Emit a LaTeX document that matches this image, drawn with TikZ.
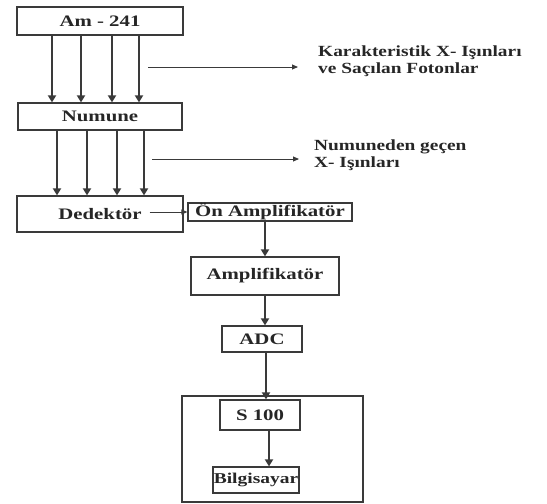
\documentclass[tikz,border=0pt]{standalone}
\usepackage{fontspec}
\newfontfamily\diagfont{Liberation Serif}[FakeStretch=1.3]
\newfontfamily\notefont{Liberation Serif}[FakeStretch=1.25]
\usetikzlibrary{arrows.meta}
\definecolor{ink}{HTML}{3A3A3A}
\tikzset{
  box/.style={draw=ink, line width=1.2pt, inner sep=0pt},
  note/.style={anchor=west, align=left, inner sep=0pt, font={\notefont\bfseries\fontsize{15.5}{17}\selectfont}},
  arr/.style={-{Triangle[length=7pt,width=8pt]}, draw=ink, line width=2pt},
  thinarr/.style={-{Triangle[length=6pt,width=5pt]}, draw=ink, line width=0.9pt},
}
\begin{document}
\begin{tikzpicture}[x=1pt, y=-1pt, font={\diagfont\bfseries\fontsize{16}{17}\selectfont}, text=black!85]
    \useasboundingbox (0,0) rectangle (547,504);
    \node[box, minimum width=166pt, minimum height=28pt] (am) at (100,21) {Am - 241};
    \node[box, minimum width=164pt, minimum height=27pt] (numune) at (100,116.5) {Numune};
    \node[box, minimum width=166pt, minimum height=36pt] (dedektor) at (100,214) {Dedektör};
    \node[box, minimum width=164pt, minimum height=18pt] (on) at (270,212) {Ön Amplifikatör};
    \node[box, minimum width=148pt, minimum height=38pt] (amp) at (265,276) {Amplifikatör};
    \node[box, minimum width=80pt, minimum height=26pt] (adc) at (262,339) {ADC};
    \node[box, minimum width=181pt, minimum height=106pt] (pc) at (272.5,449) {};
    \node[box, minimum width=80pt, minimum height=30pt] (s100) at (260,415) {S 100};
    \node[box, minimum width=86pt, minimum height=26pt, font={\diagfont\bfseries\fontsize{15}{16}\selectfont}] (bilgi) at (256,480) {Bilgisayar};
    \node[note] (karak) at (318,61.5) {Karakteristik X- Işınları\\ve Saçılan Fotonlar};
    \node[note] (gecen) at (314,155.5) {Numuneden geçen\\X- Işınları};
    \coordinate (ray1) at (148,67);
    \coordinate (ray2) at (152,159);
    \foreach \d in {-48,-19,12,39}
        \draw[arr] ([xshift=\d pt]am.south) -- ([xshift=\d pt]am.south |- numune.north);
    \foreach \d in {-43,-13,17,44}
        \draw[arr] ([xshift=\d pt]numune.south) -- ([xshift=\d pt]numune.south |- dedektor.north);
    \draw[thinarr, shorten >=20pt] (ray1) -- (ray1 -| karak.west);
    \draw[thinarr, shorten >=15pt] (ray2) -- (ray2 -| gecen.west);
    \draw[thinarr] ([xshift=-34pt]dedektor.east |- on.west) -- (on.west);
    \draw[arr] ([xshift=-5pt]on.south) -- ([xshift=-5pt]on.south |- amp.north);
    \draw[arr] (amp.south) -- (amp.south |- adc.north);
    \draw[arr] ([xshift=4pt]adc.south) -- ([xshift=4pt]adc.south |- s100.north);
    \draw[arr] ([xshift=9pt]s100.south) -- ([xshift=9pt]s100.south |- bilgi.north);
\end{tikzpicture}
\end{document}
